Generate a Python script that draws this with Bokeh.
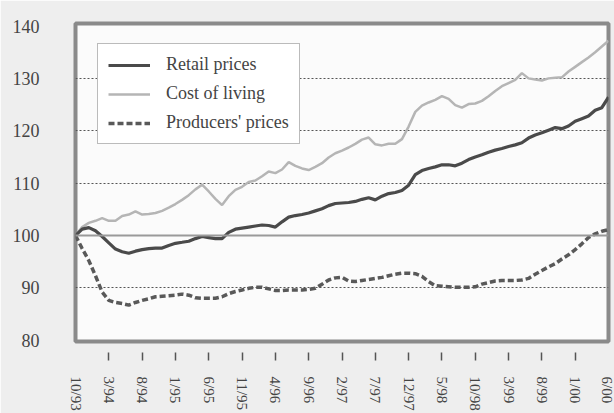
from bokeh.plotting import figure
from bokeh.models import (Range1d, FixedTicker, LinearAxis, Legend, LegendItem, Span)
from bokeh.embed import file_html
from bokeh.resources import INLINE

tick_labels = ["10/93", "3/94", "8/94", "1/95", "6/95", "11/95", "4/96", "9/96",
               "2/97", "7/97", "12/97", "5/98", "10/98", "3/99", "8/99", "1/00", "6/00"]

retail_prices = [
    100.0, 101.2, 101.5, 100.9, 99.8, 98.6, 97.4, 96.9, 96.6, 97.0,
    97.3, 97.5, 97.6, 97.6, 98.1, 98.5, 98.7, 98.9, 99.4, 99.8,
    99.6, 99.4, 99.4, 100.6, 101.2, 101.4, 101.6, 101.8, 102.0, 101.9,
    101.6, 102.6, 103.5, 103.8, 104.0, 104.3, 104.7, 105.1, 105.7, 106.1,
    106.2, 106.3, 106.5, 106.9, 107.2, 106.8, 107.5, 108.0, 108.2, 108.6,
    109.6, 111.6, 112.4, 112.8, 113.1, 113.5, 113.5, 113.3, 113.8, 114.5,
    115.0, 115.4, 115.9, 116.3, 116.6, 117.0, 117.3, 117.7, 118.6, 119.2,
    119.6, 120.1, 120.6, 120.4, 120.9, 121.8, 122.3, 122.8, 123.9, 124.4,
    126.4]

cost_of_living = [
    100.0, 101.6, 102.4, 102.8, 103.3, 102.8, 102.8, 103.7, 104.0, 104.6,
    104.0, 104.1, 104.3, 104.7, 105.3, 106.0, 106.8, 107.7, 108.8, 109.7,
    108.4, 107.0, 105.8, 107.5, 108.7, 109.3, 110.2, 110.5, 111.3, 112.2,
    111.9, 112.6, 114.0, 113.3, 112.8, 112.5, 113.1, 113.8, 114.9, 115.7,
    116.2, 116.8, 117.5, 118.3, 118.7, 117.4, 117.2, 117.5, 117.5, 118.4,
    120.8, 123.6, 124.8, 125.4, 125.9, 126.6, 126.1, 124.9, 124.4, 125.1,
    125.2, 125.7, 126.6, 127.6, 128.5, 129.1, 129.7, 131.0, 130.0, 129.8,
    129.6, 130.0, 130.1, 130.2, 131.3, 132.2, 133.1, 134.0, 135.0, 136.1,
    137.2]

producers_prices = [
    100.0, 97.5, 95.2, 92.3, 89.2, 87.6, 87.2, 87.0, 86.7, 87.2,
    87.6, 87.9, 88.3, 88.4, 88.5, 88.6, 88.8, 88.6, 88.1, 88.0,
    88.0, 88.0, 88.3, 88.9, 89.3, 89.6, 89.9, 90.1, 90.1, 89.8,
    89.5, 89.5, 89.6, 89.6, 89.6, 89.7, 89.9, 90.7, 91.5, 91.9,
    92.0, 91.3, 91.2, 91.4, 91.6, 91.8, 92.0, 92.3, 92.6, 92.8,
    92.8, 92.7, 92.2, 91.2, 90.4, 90.3, 90.2, 90.1, 90.1, 90.1,
    90.2, 90.7, 91.0, 91.3, 91.4, 91.4, 91.4, 91.5, 91.8, 92.6,
    93.3, 94.0, 94.6, 95.5, 96.3, 97.3, 98.4, 99.6, 100.3, 100.8,
    101.1]

y_ticks = [80, 90, 100, 110, 120, 130, 140]
grid_levels = [90, 110, 120, 130]
baseline = 100

months = list(range(len(retail_prices)))
label_step = 5
label_pos = [i * label_step for i in range(len(tick_labels))]

FONT = "Liberation Serif"

p = figure(width=614, height=413, output_backend="svg", toolbar_location=None,
           x_range=Range1d(0, 80), y_range=Range1d(79.75, 140.48),
           min_border_left=75, min_border_right=6, min_border_top=23, min_border_bottom=20)

p.background_fill_color = "#fbfbfb"
p.border_fill_color = "#eeeeee"
p.outline_line_color = "#8a8a8a"
p.outline_line_width = 4

# grids
p.xgrid.visible = False
p.ygrid.ticker = FixedTicker(ticks=grid_levels)
p.ygrid.grid_line_color = "#555555"
p.ygrid.grid_line_width = 1
p.ygrid.grid_line_dash = "2 2"

p.add_layout(Span(location=baseline, dimension="width", line_color="#9a9a9a", line_width=2))

# y axis
ya = p.yaxis[0]
ya.ticker = FixedTicker(ticks=y_ticks)
ya.axis_line_color = None
ya.major_tick_line_color = None
ya.minor_tick_line_color = None
ya.major_tick_in = 0
ya.major_tick_out = 0
ya.major_label_standoff = 36
ya.major_label_text_font = FONT
ya.major_label_text_font_size = "18px"
ya.major_label_text_color = "#444444"

# x axis A: tick marks only (interior)
xa = p.xaxis[0]
xa.ticker = FixedTicker(ticks=label_pos[1:-1])
xa.axis_line_color = None
xa.minor_tick_line_color = None
xa.minor_tick_out = 0
xa.minor_tick_in = 0
xa.major_tick_line_color = "#555555"
xa.major_tick_line_width = 1.5
xa.major_tick_in = -11
xa.major_tick_out = 19
xa.major_label_standoff = 0
xa.major_label_text_font_size = "1px"
xa.major_label_text_alpha = 0

# x axis B: labels
xb = LinearAxis(ticker=FixedTicker(ticks=label_pos),
                major_label_overrides={pos: lab for pos, lab in zip(label_pos, tick_labels)})
xb.axis_line_color = None
xb.major_tick_line_color = None
xb.minor_tick_line_color = None
xb.major_tick_in = 0
xb.major_tick_out = 0
xb.minor_tick_in = 0
xb.minor_tick_out = 0
xb.major_label_orientation = "vertical"
xb.major_label_standoff = 16
xb.major_label_text_font = FONT
xb.major_label_text_font_size = "15px"
xb.major_label_text_color = "#444444"
p.add_layout(xb, "below")

r_cost = p.line(months, cost_of_living, line_color="#b5b5b5", line_width=2.5)
r_retail = p.line(months, retail_prices, line_color="#4a4a4a", line_width=3.2)
r_prod = p.line(months, producers_prices, line_color="#595959", line_width=3.5, line_dash="6 3")

legend = Legend(items=[
    LegendItem(label="Retail prices", renderers=[r_retail]),
    LegendItem(label="Cost of living", renderers=[r_cost]),
    LegendItem(label="Producers' prices", renderers=[r_prod]),
], location=(22, 197))
legend.margin = 0
legend.padding = 10
legend.spacing = 8
legend.label_height = 20
legend.glyph_height = 20
legend.glyph_width = 42
legend.label_standoff = 16
legend.label_text_font = FONT
legend.label_text_font_size = "18px"
legend.label_text_color = "#444444"
legend.border_line_color = "#777777"
legend.border_line_width = 1.5
legend.background_fill_color = "white"
legend.background_fill_alpha = 1
p.add_layout(legend)

open("out.html", "w").write(file_html(p, INLINE))
